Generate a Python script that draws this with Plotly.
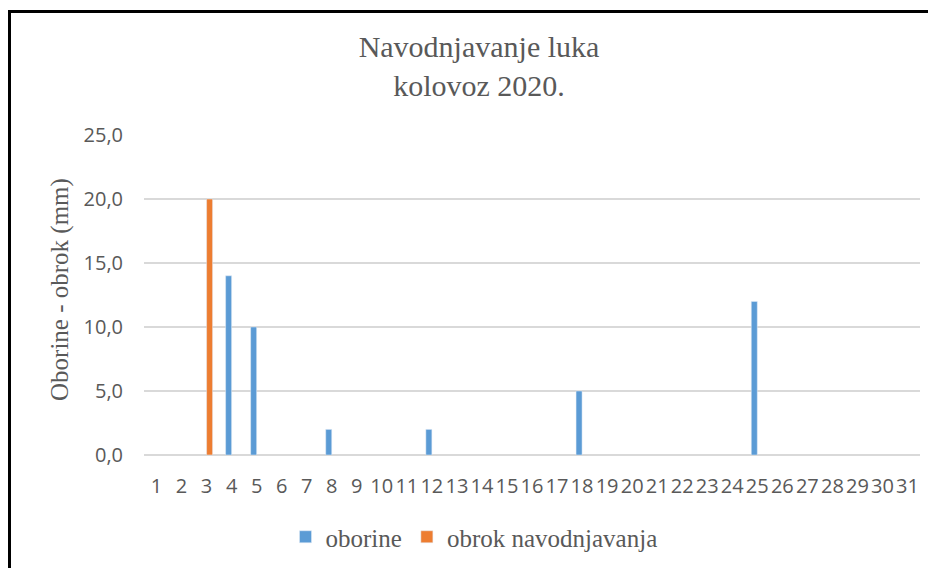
import plotly.graph_objects as go

days = [str(d) for d in range(1, 32)]
oborine = [None, None, None, 14, 10, None, None, 2, None, None, None, 2, None, None, None, None,
           None, 5, None, None, None, None, None, None, 12, None, None, None, None, None, None]
obrok = [None, None, 20, None, None, None, None, None, None, None, None, None, None, None, None, None,
         None, None, None, None, None, None, None, None, None, None, None, None, None, None, None]
y_ticks = [0, 5, 10, 15, 20, 25]

# page body has an 8px margin; work in reference-screen pixels and shift
OFF = 8
W, H = 936 - OFF, 568 - OFF
L, R, T, B = 144 - OFF, 920 - OFF, 135 - OFF, 455 - OFF
pw, ph = R - L, B - T

def px(x):
    return (x - OFF - L) / pw

def py(y):
    return (B - (y - OFF)) / ph

grey = "#595959"

fig = go.Figure()
fig.add_trace(go.Bar(x=days, y=oborine, name="oborine", marker_color="#5B9BD5"))
fig.add_trace(go.Bar(x=days, y=obrok, name="obrok navodnjavanja", marker_color="#ED7D31"))

fig.update_layout(
    width=W, height=H,
    margin=dict(l=L, r=W - R, t=T, b=H - B, autoexpand=False),
    paper_bgcolor="white", plot_bgcolor="white",
    barmode="group", bargap=0.52, bargroupgap=0,
    separators=", ",
    title=dict(text="Navodnjavanje luka<br>kolovoz 2020.", x=(479 - OFF) / W, xanchor="center",
               y=1 - (57 - OFF) / H, yanchor="top", yref="container",
               font=dict(family="Liberation Serif", size=30, color=grey)),
    legend=dict(orientation="h", x=px(474), xanchor="center", y=py(537), yanchor="middle",
                font=dict(family="Liberation Serif", size=25, color=grey), bgcolor="rgba(0,0,0,0)"),
    showlegend=True,
)
fig.update_xaxes(type="category", range=[-0.5, 30.5], tickmode="array", tickvals=days, ticktext=days,
                 tickangle=0, showgrid=False, showline=False, ticks="", ticklabelstandoff=17,
                 tickfont=dict(family="Open Sans", size=20, color=grey), fixedrange=True)
fig.update_yaxes(range=[0, 25], tickmode="array", tickvals=y_ticks, tickformat=".1f",
                 showgrid=True, gridcolor="#d9d9d9", gridwidth=1.5, zeroline=True,
                 zerolinecolor="#d9d9d9", zerolinewidth=1.5, showline=False, ticks="",
                 ticklabelstandoff=20, tickfont=dict(family="Open Sans", size=20, color=grey))

fig.add_annotation(text="Oborine - obrok (mm)", textangle=-90, xref="paper", yref="paper",
                   x=px(60), y=py(290), xanchor="center", yanchor="middle", showarrow=False,
                   font=dict(family="Liberation Serif", size=25, color=grey))

fig.add_shape(type="rect", xref="paper", yref="paper", x0=px(9.5), x1=px(980), y0=py(11.5), y1=py(620),
              line=dict(color="black", width=3), fillcolor="rgba(0,0,0,0)", layer="above")

fig.write_html("out.html")
